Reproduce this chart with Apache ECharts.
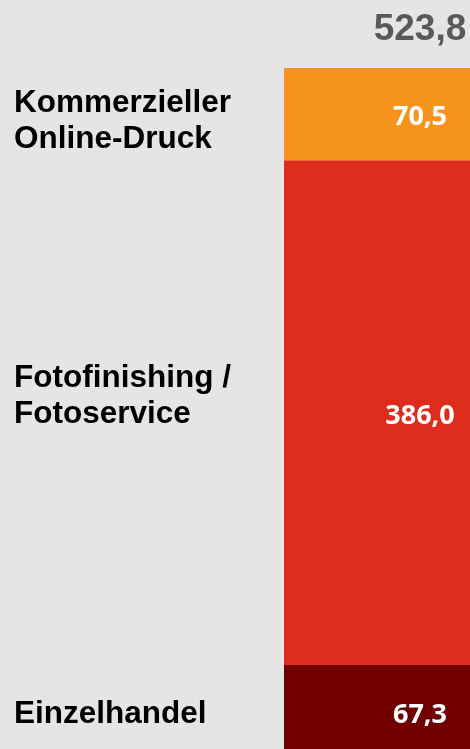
<!DOCTYPE html>
<html>
<head>
<meta charset="utf-8">
<script src="https://cdn.jsdelivr.net/npm/echarts@6/dist/echarts.min.js"></script>
<style>
  html, body { margin: 0; padding: 0; background: #e5e5e5; overflow: hidden; }
  /* the original is a crop of a slightly larger slide */
  #chart { width: 556px; height: 753px; }
</style>
</head>
<body>
<div id="chart"></div>
<script>
// segments from bottom to top
const categories = ['Einzelhandel', 'Fotofinishing /\nFotoservice', 'Kommerzieller\nOnline-Druck'];
const values = [67.3, 386.0, 70.5];
const colors = ['#730000', '#dd2b1c', '#f7941e'];
// vertical nudges for the labels (px)
const nameShift = [5, -16, 7];
const valueShift = [6, 4, 3];

const total = values.reduce((a, b) => a + b, 0);
const fmt = v => v.toFixed(1).replace('.', ',');

const chart = echarts.init(document.getElementById('chart'));

let series = [];
categories.forEach((name, i) => {
  series.push({
    name: name,
    type: 'bar',
    stack: 'v',
    data: [values[i]],
    itemStyle: { color: colors[i] },
    label: {
      show: true,
      position: 'inside',
      offset: [0, valueShift[i]],
      formatter: p => fmt(p.value),
      color: '#fff',
      fontFamily: 'Open Sans',
      fontWeight: 'bold',
      fontSize: 27
    }
  });
});
// total on top of the stack
series.push({
  name: 'total',
  type: 'bar',
  stack: 'v',
  data: [0],
  itemStyle: { color: 'transparent' },
  label: {
    show: true,
    position: 'top',
    distance: 20,
    formatter: () => fmt(total),
    color: '#595959',
    fontFamily: 'Liberation Sans',
    fontWeight: 'bold',
    fontSize: 37
  }
});
// category names, overlapping transparent stack
categories.forEach((name, i) => {
  series.push({
    name: 'n' + i,
    type: 'bar',
    stack: 'n',
    barGap: '-100%',
    data: [values[i]],
    itemStyle: { color: 'transparent' },
    label: {
      show: true,
      position: [-270, '50%'],
      align: 'left',
      verticalAlign: 'middle',
      offset: [0, nameShift[i]],
      formatter: name,
      color: '#000',
      fontFamily: 'Liberation Sans',
      fontWeight: 'bold',
      fontSize: 31.5,
      lineHeight: 36
    }
  });
});

chart.setOption({
  backgroundColor: '#e5e5e5',
  animation: false,
  grid: { left: 284, right: 0, top: 68, bottom: 0 },
  xAxis: {
    type: 'category',
    data: [''],
    show: false
  },
  yAxis: {
    type: 'value',
    min: 0,
    max: total,
    show: false
  },
  series: series,
  barCategoryGap: 0
});
</script>
</body>
</html>
